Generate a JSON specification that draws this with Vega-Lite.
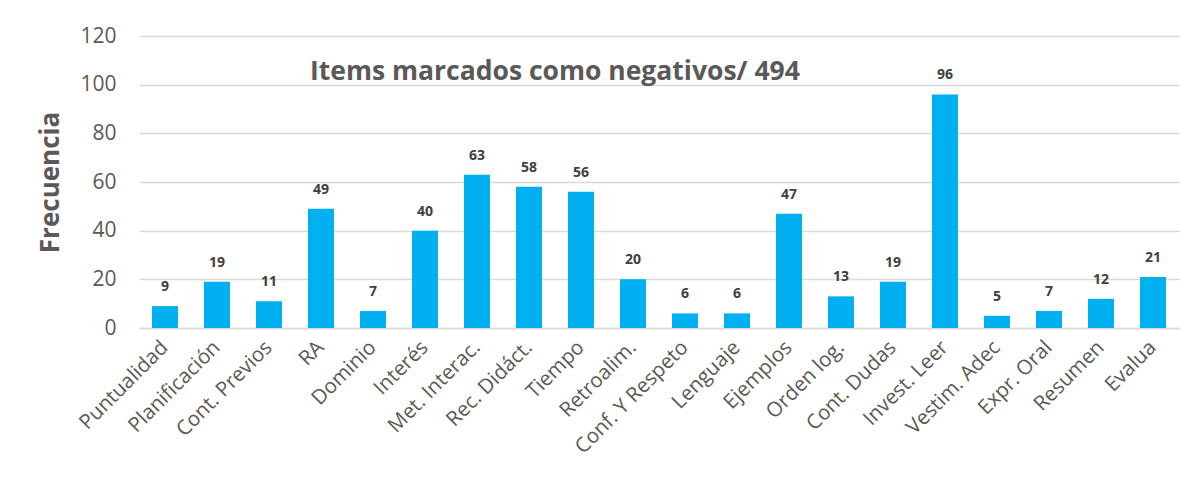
{
  "$schema": "https://vega.github.io/schema/vega-lite/v6.json",
  "width": 1040,
  "height": 292,
  "autosize": {"type": "none"},
  "padding": {"left": 139, "top": 36, "right": 20, "bottom": 155},
  "background": "white",
  "config": {"view": {"stroke": null}, "font": "Open Sans"},
  "title": {
    "text": "Items marcados como negativos/ 494",
    "anchor": "start",
    "frame": "group",
    "dx": 171,
    "offset": -87,
    "fontSize": 26.5,
    "fontWeight": "bold",
    "color": "#595959",
    "font": "Open Sans",
    "baseline": "bottom"
  },
  "data": {
    "values": [
      {"item": "Puntualidad", "freq": 9},
      {"item": "Planificación", "freq": 19},
      {"item": "Cont. Previos", "freq": 11},
      {"item": "RA", "freq": 49},
      {"item": "Dominio", "freq": 7},
      {"item": "Interés", "freq": 40},
      {"item": "Met. Interac.", "freq": 63},
      {"item": "Rec. Didáct.", "freq": 58},
      {"item": "Tiempo", "freq": 56},
      {"item": "Retroalim.", "freq": 20},
      {"item": "Conf. Y Respeto", "freq": 6},
      {"item": "Lenguaje", "freq": 6},
      {"item": "Ejemplos", "freq": 47},
      {"item": "Orden log.", "freq": 13},
      {"item": "Cont. Dudas", "freq": 19},
      {"item": "Invest. Leer", "freq": 96},
      {"item": "Vestim. Adec", "freq": 5},
      {"item": "Expr. Oral", "freq": 7},
      {"item": "Resumen", "freq": 12},
      {"item": "Evalua", "freq": 21}
    ]
  },
  "encoding": {
    "x": {
      "field": "item",
      "type": "nominal",
      "sort": null,
      "scale": {"paddingInner": 0.5, "paddingOuter": 0.25},
      "axis": {
        "title": null,
        "labelAngle": -45,
        "labelAlign": "right",
        "labelBaseline": "middle",
        "labelFontSize": 20.5,
        "labelColor": "#595959",
        "labelFont": "Open Sans",
        "labelPadding": 16,
        "ticks": false,
        "domainColor": "#d9d9d9",
        "domainWidth": 1.5,
        "grid": false
      }
    },
    "y": {
      "field": "freq",
      "type": "quantitative",
      "scale": {"domain": [0, 120]},
      "axis": {
        "title": "Frecuencia",
        "titleFontSize": 26,
        "titleFontWeight": "bold",
        "titleColor": "#595959",
        "titleFont": "Open Sans",
        "titlePadding": 16,
        "values": [0, 20, 40, 60, 80, 100, 120],
        "labelFontSize": 21,
        "labelColor": "#595959",
        "labelFont": "Open Sans",
        "labelPadding": 23,
        "ticks": false,
        "domain": false,
        "gridColor": "#d9d9d9",
        "gridWidth": 1.5
      }
    }
  },
  "layer": [
    {"mark": {"type": "bar", "color": "#00B0F0"}},
    {
      "mark": {
        "type": "text",
        "baseline": "bottom",
        "dy": -12,
        "fontSize": 14,
        "fontWeight": "bold",
        "color": "#404040",
        "font": "Open Sans"
      },
      "encoding": {"text": {"field": "freq", "type": "quantitative"}}
    }
  ]
}
